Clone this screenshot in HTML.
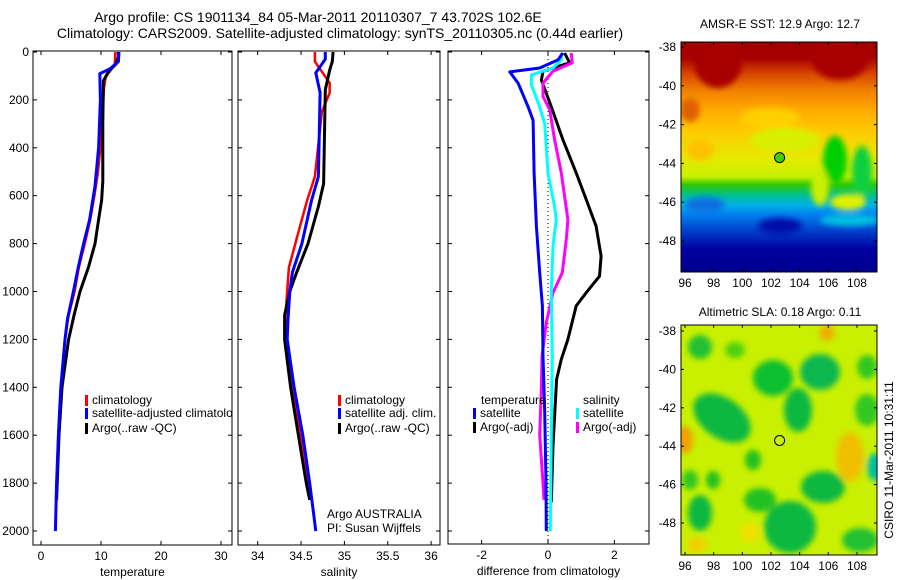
<!DOCTYPE html>
<html><head><meta charset="utf-8"><style>
body{margin:0;background:#fff;}
svg{display:block;font-family:"Liberation Sans",sans-serif;}
text{fill:#000;}
</style></head><body>
<svg id="fig" width="900" height="580" viewBox="0 0 900 580">
<defs>
<clipPath id="c1"><rect x="33" y="51" width="199" height="494"/></clipPath>
<clipPath id="c2"><rect x="238" y="51" width="202" height="494"/></clipPath>
<clipPath id="c3"><rect x="448" y="51" width="201" height="494"/></clipPath>
<clipPath id="m1"><rect x="681" y="42" width="196" height="230"/></clipPath>
<clipPath id="m2"><rect x="681" y="325" width="196" height="230"/></clipPath>
<filter id="bl" x="-20%" y="-20%" width="140%" height="140%"><feGaussianBlur stdDeviation="3"/></filter>
<linearGradient id="sst" x1="0" y1="42" x2="0" y2="272" gradientUnits="userSpaceOnUse">
<stop offset="0" stop-color="#a00000"/><stop offset="0.07" stop-color="#a80000"/>
<stop offset="0.14" stop-color="#d84800"/><stop offset="0.21" stop-color="#f08000"/>
<stop offset="0.29" stop-color="#ffa800"/><stop offset="0.38" stop-color="#ffc800"/>
<stop offset="0.5" stop-color="#e8e800"/><stop offset="0.585" stop-color="#c8f000"/>
<stop offset="0.62" stop-color="#30c800"/>
<stop offset="0.665" stop-color="#00c090"/><stop offset="0.71" stop-color="#00b0e8"/>
<stop offset="0.75" stop-color="#0080f0"/><stop offset="0.84" stop-color="#0030c0"/>
<stop offset="0.9" stop-color="#0000a0"/><stop offset="1" stop-color="#000090"/>
</linearGradient>
</defs>

<text x="318" y="22" font-size="14" text-anchor="middle">Argo profile: CS 1901134_84 05-Mar-2011 20110307_7 43.702S 102.6E</text>
<text x="340" y="38" font-size="14" text-anchor="middle">Climatology: CARS2009. Satellite-adjusted climatology: synTS_20110305.nc (0.44d earlier)</text>

<g id="p1"></g>
<g id="p2"></g>
<g id="p3"></g>

<!-- SST map -->
<g>
<g clip-path="url(#m1)">
<rect x="681" y="42" width="196" height="230" fill="url(#sst)"/>
<g filter="url(#bl)">
<ellipse cx="718" cy="62" rx="24" ry="26" fill="#a80000"/>
<ellipse cx="840" cy="60" rx="28" ry="20" fill="#a80000"/>
<ellipse cx="690" cy="110" rx="10" ry="12" fill="#e06000"/>
<ellipse cx="770" cy="118" rx="30" ry="10" fill="#ffd000"/>
<ellipse cx="785" cy="140" rx="35" ry="12" fill="#d8f000"/>
<ellipse cx="700" cy="150" rx="14" ry="10" fill="#ffc000"/>
<ellipse cx="835" cy="160" rx="12" ry="24" fill="#00d000"/>
<ellipse cx="862" cy="172" rx="10" ry="26" fill="#10d040"/>
<ellipse cx="848" cy="202" rx="18" ry="8" fill="#e0f000"/>
<ellipse cx="820" cy="188" rx="9" ry="18" fill="#c8f000"/>
<ellipse cx="705" cy="205" rx="20" ry="8" fill="#1070e0"/>
<ellipse cx="780" cy="226" rx="22" ry="8" fill="#0010a8"/>
<ellipse cx="850" cy="220" rx="30" ry="6" fill="#00c0e0"/>
</g>
</g>
<rect x="681" y="42" width="196" height="230" fill="none" stroke="#000"/>
<circle cx="779.6" cy="157.6" r="5" fill="#40d000" stroke="#000"/>
<text x="780" y="28" font-size="12" text-anchor="middle">AMSR-E SST: 12.9 Argo: 12.7</text>
<g id="m1ax"></g>
</g>

<!-- SLA map -->
<g>
<g clip-path="url(#m2)">
<rect x="681" y="325" width="196" height="230" fill="#c8f000"/>
<g filter="url(#bl)">
<ellipse cx="722" cy="418" rx="32" ry="20" fill="#10b840" transform="rotate(35 722 418)"/>
<ellipse cx="773" cy="378" rx="20" ry="18" fill="#10c030"/>
<ellipse cx="820" cy="372" rx="20" ry="18" fill="#10b850"/>
<ellipse cx="798" cy="410" rx="14" ry="22" fill="#10b840"/>
<ellipse cx="823" cy="487" rx="22" ry="16" fill="#10b840"/>
<ellipse cx="790" cy="527" rx="26" ry="26" fill="#10b840"/>
<ellipse cx="760" cy="500" rx="16" ry="12" fill="#20c020"/>
<ellipse cx="700" cy="513" rx="12" ry="18" fill="#10b840"/>
<ellipse cx="713" cy="480" rx="7" ry="9" fill="#20c020"/>
<ellipse cx="700" cy="347" rx="12" ry="12" fill="#20c030"/>
<ellipse cx="753" cy="460" rx="8" ry="10" fill="#20c020"/>
<ellipse cx="867" cy="410" rx="12" ry="16" fill="#30c820"/>
<ellipse cx="867" cy="367" rx="10" ry="12" fill="#30c820"/>
<ellipse cx="860" cy="540" rx="18" ry="12" fill="#20c030"/>
<ellipse cx="690" cy="480" rx="8" ry="10" fill="#30c820"/>
<ellipse cx="735" cy="350" rx="10" ry="8" fill="#50d010"/>
<ellipse cx="685" cy="440" rx="8" ry="14" fill="#f0a000"/>
<ellipse cx="850" cy="457" rx="14" ry="25" fill="#f0c000"/>
<ellipse cx="827" cy="333" rx="8" ry="8" fill="#f0b000"/>
<ellipse cx="750" cy="533" rx="10" ry="10" fill="#f0e000"/>
<ellipse cx="697" cy="545" rx="10" ry="8" fill="#f0d000"/>
<ellipse cx="875" cy="467" rx="8" ry="14" fill="#00c0a0"/>
</g>
</g>
<rect x="681" y="325" width="196" height="230" fill="none" stroke="#000"/>
<circle cx="779.6" cy="440.5" r="5" fill="#c8f000" stroke="#000"/>
<text x="780" y="316" font-size="12" text-anchor="middle">Altimetric SLA: 0.18 Argo: 0.11</text>
<g id="m2ax"></g>
</g>
<text transform="translate(893,460) rotate(-90)" font-size="12" text-anchor="middle">CSIRO 11-Mar-2011 10:31:11</text>
</svg>
<script>
// ---- data ----
const depthTicks = [0,200,400,600,800,1000,1200,1400,1600,1800,2000];
const tempTicks = [0,10,20,30];
const salTicks = [34,34.5,35,35.5,36];
const diffTicks = [-2,0,2];

const tArgoDepth = [0,20,50,80,120,300,540,620,700,800,900,1000,1100,1200,1400,1600,1800,1870];
const tArgo = [12.9,12.9,12.5,11.3,10.4,10.3,10.3,10.1,9.6,9.0,7.9,6.5,5.5,4.6,3.5,3.0,2.7,2.6];
const tClimDepth = [0,50,80,100,150,400,500,600,700,800,900,1000,1100,1200,1400,1600,1800,1870];
const tClim = [12.4,12.3,11.5,10.8,10.5,9.9,9.5,8.9,8.2,7.3,6.3,5.6,4.6,4.0,3.3,2.9,2.6,2.5];
const tSatDepth = [0,40,70,90,200,400,560,700,800,900,1000,1117,1200,1400,1600,1800,2000];
const tSat = [13.0,12.9,11.5,9.8,9.9,9.6,9.0,8.1,7.1,6.2,5.4,4.4,4.0,3.3,2.9,2.6,2.4];

const sArgoDepth = [0,40,75,158,550,645,800,920,1000,1100,1200,1400,1600,1800,1870];
const sArgo = [34.87,34.86,34.83,34.78,34.76,34.70,34.58,34.45,34.37,34.31,34.31,34.38,34.47,34.56,34.60];
const sClimDepth = [0,40,87,130,170,250,520,620,725,900,1000,1100,1200,1400,1600,1800,1870];
const sClim = [34.66,34.66,34.75,34.83,34.83,34.74,34.66,34.57,34.49,34.36,34.34,34.32,34.33,34.41,34.50,34.59,34.62];
const sSatDepth = [0,30,87,170,520,620,800,920,1000,1117,1200,1400,1600,1800,2000];
const sSat = [34.78,34.78,34.67,34.72,34.70,34.62,34.51,34.40,34.37,34.35,34.34,34.42,34.52,34.60,34.67];

const dTSatDepth = [4,33,67,83,130,229,285,505,727,921,1060,1270,1500,1800,2000];
const dTSat = [0.45,0.3,-0.25,-1.15,-0.9,-0.6,-0.45,-0.42,-0.35,-0.25,-0.17,-0.15,-0.1,-0.06,-0.05];
const dSSatDepth = [4,33,67,95,137,229,300,505,645,700,811,1005,1270,1600,2000];
const dSSat = [0.4,0.4,0.15,-0.5,-0.5,-0.25,-0.1,0,0.2,0.25,0.15,0.1,0.13,0.1,0.07];
const dSArgoDepth = [4,45,80,130,186,240,366,505,700,783,921,1005,1130,1270,1400,1600,1800,1870];
const dSArgo = [0.7,0.73,0.15,-0.15,-0.15,0.05,0.2,0.4,0.6,0.55,0.43,0.15,-0.05,-0.18,-0.2,-0.25,-0.15,-0.12];
const dTArgoDepth = [4,45,80,117,229,366,505,616,727,852,936,1005,1060,1200,1283,1367,1645,1880];
const dTArgo = [0.5,0.65,-0.15,-0.2,0.1,0.45,0.85,1.15,1.45,1.6,1.55,1.15,0.85,0.6,0.4,0.26,0.15,0.1];

const latTicks = [38,40,42,44,46,48];
const lonTicks = [96,98,100,102,104,106,108];

// ---- helpers ----
const NS = 'http://www.w3.org/2000/svg';
function mk(parent, tag, attrs, txt){
  const e = document.createElementNS(NS, tag);
  for (const k in attrs) e.setAttribute(k, attrs[k]);
  if (txt !== undefined) e.textContent = txt;
  parent.appendChild(e); return e;
}
const yD = d => 52 + d * 0.2395;

function panel(g, x0, x1, yBot, xs, ticks, fmt, label, clip, showY){
  const box = mk(g, 'rect', {x:x0, y:51, width:x1-x0, height:yBot-51, fill:'none', stroke:'#000'});
  
  
  depthTicks.forEach(d => {
    const y = yD(d);
    mk(g, 'line', {x1:x0, x2:x0+4, y1:y, y2:y, stroke:'#000'});
    mk(g, 'line', {x1:x1-4, x2:x1, y1:y, y2:y, stroke:'#000'});
    if (showY) {
      const t = mk(g, 'text', {x:29, y:y+4, 'font-size':12, 'text-anchor':'end'}, String(d));
      
      
    }
  });
  ticks.forEach(v => {
    const x = xs(v);
    mk(g, 'line', {x1:x, x2:x, y1:51, y2:55, stroke:'#000'});
    mk(g, 'line', {x1:x, x2:x, y1:yBot-4, y2:yBot, stroke:'#000'});
    const t = mk(g, 'text', {x:x, y:yBot+15, 'font-size':12, 'text-anchor':'middle'}, fmt(v));
    
    
  });
  const xl = mk(g, 'text', {x:(x0+x1)/2, y:yBot+31, 'font-size':12, 'text-anchor':'middle'}, label);
  
  
  return mk(g, 'g', {'clip-path':'url(#'+clip+')'});
}
function series(g, xs, depths, vals, color, w, name){
  const pts = vals.map((v,i) => xs(v).toFixed(1)+','+yD(depths[i]).toFixed(1)).join(' ');
  const p = mk(g, 'polyline', {points:pts, fill:'none', stroke:color, 'stroke-width':w, 'stroke-linejoin':'round'});
  
  
}
function legend(g, x, y, color, label, name){
  if (color) mk(g, 'rect', {x:x, y:y-9, width:3, height:11, fill:color});
  const t = mk(g, 'text', {x:x+(color?7:0), y:y, 'font-size':12}, label);
  
  
}

// ---- panel 1: temperature ----
const xT = v => 41 + v * 6;
const g1 = panel(document.getElementById('p1'), 33, 232, 545, xT, tempTicks, String, 'temperature', 'c1', true);
series(g1, xT, tClimDepth, tClim, '#ff0000', 2.5, 'temp-climatology-line');
series(g1, xT, tArgoDepth, tArgo, '#000000', 3, 'temp-argo-line');
series(g1, xT, tSatDepth, tSat, '#0000ff', 3, 'temp-satellite-line');
legend(g1, 85, 404, '#ff0000', 'climatology', 'legend-climatology');
legend(g1, 85, 417, '#0000ff', 'satellite-adjusted climatology', 'legend-satellite-adjusted');
legend(g1, 85, 432, '#000000', 'Argo(..raw -QC)', 'legend-argo');

// ---- panel 2: salinity ----
const xS = v => 257.7 + (v - 34) * 86.7;
const g2 = panel(document.getElementById('p2'), 238, 440, 545, xS, salTicks, String, 'salinity', 'c2', false);
series(g2, xS, sClimDepth, sClim, '#ff0000', 2.5, 'sal-climatology-line');
series(g2, xS, sArgoDepth, sArgo, '#000000', 3, 'sal-argo-line');
series(g2, xS, sSatDepth, sSat, '#0000ff', 3, 'sal-satellite-line');
legend(g2, 338, 404, '#ff0000', 'climatology', 'legend-climatology');
legend(g2, 338, 417, '#0000ff', 'satellite adj. clim.', 'legend-satellite-adj');
legend(g2, 338, 432, '#000000', 'Argo(..raw -QC)', 'legend-argo');
legend(g2, 327, 518, null, 'Argo AUSTRALIA', 'argo-program-label');
legend(g2, 327, 532, null, 'PI: Susan Wijffels', 'pi-label');

// ---- panel 3: differences ----
const xDf = v => 548 + v * 33.2;
const g3 = panel(document.getElementById('p3'), 448, 649, 544, xDf, diffTicks, String, 'difference from climatology', 'c3', false);
mk(g3, 'line', {x1:xDf(0), x2:xDf(0), y1:51, y2:544, stroke:'#000', 'stroke-dasharray':'1,3'});
series(g3, xDf, dTArgoDepth, dTArgo, '#000000', 3, 'diff-temp-argo-line');
series(g3, xDf, dSArgoDepth, dSArgo, '#ff00ff', 3, 'diff-sal-argo-line');
series(g3, xDf, dSSatDepth, dSSat, '#00ffff', 3, 'diff-sal-satellite-line');
series(g3, xDf, dTSatDepth, dTSat, '#0000ff', 3, 'diff-temp-satellite-line');
legend(g3, 481, 404, null, 'temperature', 'legend-temperature-header');
legend(g3, 473, 417, '#0000ff', 'satellite', 'legend-temp-satellite');
legend(g3, 473, 431, '#000000', 'Argo(-adj)', 'legend-temp-argo');
legend(g3, 583, 404, null, 'salinity', 'legend-salinity-header');
legend(g3, 576, 417, '#00ffff', 'satellite', 'legend-sal-satellite');
legend(g3, 576, 431, '#ff00ff', 'Argo(-adj)', 'legend-sal-argo');

// ---- map axes ----
function mapAxes(id, yTop, yBot, lat38, pxLat){
  const g = document.getElementById(id);
  latTicks.forEach(L => {
    const y = lat38 + (L - 38) * pxLat;
    mk(g, 'line', {x1:681, x2:684, y1:y, y2:y, stroke:'#000'});
    mk(g, 'line', {x1:874, x2:877, y1:y, y2:y, stroke:'#000'});
    const t = mk(g, 'text', {x:676, y:y+4, 'font-size':12, 'text-anchor':'end'}, '-' + L);
    
    
  });
  lonTicks.forEach(l => {
    const x = 685 + (l - 96) * 14.33;
    mk(g, 'line', {x1:x, x2:x, y1:yTop, y2:yTop+3, stroke:'#000'});
    mk(g, 'line', {x1:x, x2:x, y1:yBot-3, y2:yBot, stroke:'#000'});
    const t = mk(g, 'text', {x:x, y:yBot+15, 'font-size':12, 'text-anchor':'middle'}, String(l));
    
    
  });
}
mapAxes('m1ax', 42, 272, 47, 19.4);
mapAxes('m2ax', 325, 555, 331, 19.2);
</script>
</body></html>
